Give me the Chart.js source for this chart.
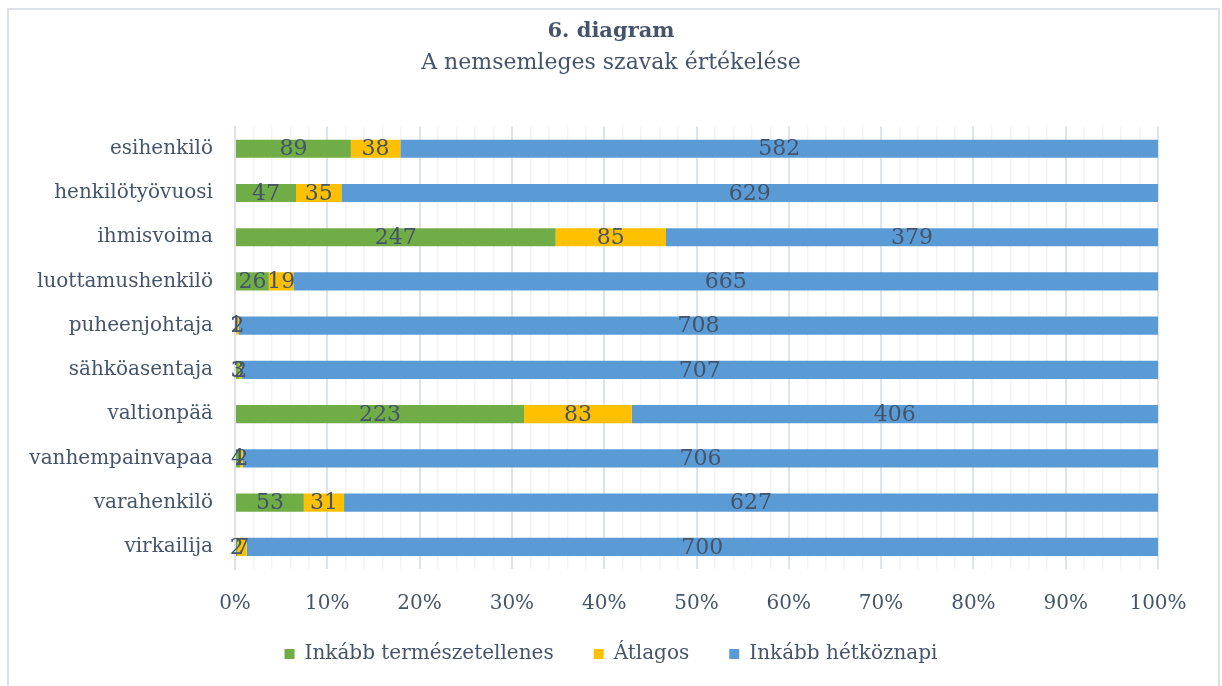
<!DOCTYPE html>
<html lang="hu">
<head>
<meta charset="UTF-8">
<title>6. diagram</title>
<script src="https://cdn.jsdelivr.net/npm/chart.js@4.4.1/dist/chart.umd.min.js"></script>
<style>
  html, body { margin: 0; padding: 0; background: #fff; overflow: hidden; }
  #wrap { position: absolute; left: 0; top: 0; width: 1222px; height: 686px; }
  #frame { position: absolute; left: 7px; top: 8px; width: 1209px; height: 700px;
           border: 2px solid #DCE1E8; pointer-events: none; }
</style>
</head>
<body>
<div id="wrap"><canvas id="chart" width="1222" height="686"></canvas></div>
<div id="frame"></div>
<script>
const categories = ['esihenkilö', 'henkilötyövuosi', 'ihmisvoima', 'luottamushenkilö', 'puheenjohtaja',
                    'sähköasentaja', 'valtionpää', 'vanhempainvapaa', 'varahenkilö', 'virkailija'];
const seriesNames = ['Inkább természetellenes', 'Átlagos', 'Inkább hétköznapi'];
const unnatural = [89, 47, 247, 26, 1, 3, 223, 4, 53, 2];
const average   = [38, 35, 85, 19, 2, 2, 83, 2, 31, 7];
const everyday  = [582, 629, 379, 665, 708, 707, 406, 706, 627, 700];
const colors = ['#70AD47', '#FFC000', '#5B9BD5'];
const textColor = '#44546A';
const font = 'DejaVu Serif';

const raw = [unnatural, average, everyday];
const totals = categories.map((c, i) => unnatural[i] + average[i] + everyday[i]);
const pct = raw.map(s => s.map((v, i) => v / totals[i] * 100));

// draw the count in the middle of each segment
const segmentLabels = {
  id: 'segmentLabels',
  afterDatasetsDraw(chart) {
    const ctx = chart.ctx;
    ctx.save();
    ctx.font = '22px "' + font + '"';
    ctx.fillStyle = textColor;
    ctx.textAlign = 'center';
    ctx.textBaseline = 'middle';
    chart.data.datasets.forEach((ds, i) => {
      chart.getDatasetMeta(i).data.forEach((bar, j) => {
        const p = bar.getCenterPoint();
        ctx.fillText(String(raw[i][j]), p.x, p.y + 1);
      });
    });
    ctx.restore();
  }
};

// legend with fixed height, nudged up; title, subtitle and legend centred on the whole canvas
const boxPlace = {
  id: 'boxPlace',
  beforeInit(chart) {
    const lg = chart.legend;
    const fit = lg.fit;
    lg.fit = function () { fit.call(this); this.height = 69; };
  },
  afterLayout(chart) {
    chart.legend.top -= 13;
    chart.legend.bottom -= 13;
    chart.boxes.forEach(b => {
      if (b.position === 'top' || b.position === 'bottom') {
        if (b.axis) return;
        b.left = 0;
        b.right = chart.width;
        b.width = chart.width;
      }
    });
  }
};

new Chart(document.getElementById('chart'), {
  type: 'bar',
  data: {
    labels: categories,
    datasets: seriesNames.map((name, i) => ({
      label: name,
      data: pct[i],
      backgroundColor: colors[i],
      borderWidth: 0,
      categoryPercentage: 0.82,
      barPercentage: 0.5
    }))
  },
  options: {
    indexAxis: 'y',
    responsive: false,
    animation: false,
    layout: { padding: { left: 15, right: 64, top: 0, bottom: 0 } },
    scales: {
      x: {
        stacked: true,
        min: 0,
        max: 100,
        grid: {
          drawTicks: false,
          lineWidth: c => (c.tick && c.tick.value % 10 === 0) ? 2 : 1.5,
          color: c => (c.tick && c.tick.value % 10 === 0) ? '#DFE3EA' : '#F3F3F3'
        },
        border: { display: false },
        ticks: {
          stepSize: 2,
          autoSkip: false,
          maxTicksLimit: 60,
          maxRotation: 0,
          padding: 23,
          color: textColor,
          font: { family: font, size: 20 },
          callback: v => v % 10 === 0 ? v + '%' : ''
        },
        afterFit: s => { s.height = 48; }
      },
      y: {
        stacked: true,
        grid: { display: false, drawTicks: false },
        border: { display: true, color: '#DCE1E8', width: 2 },
        ticks: {
          padding: 22,
          color: textColor,
          font: { family: font, size: 20 }
        },
        afterFit: s => { s.width = 220; }
      }
    },
    plugins: {
      title: {
        display: true,
        text: '6. diagram',
        color: textColor,
        font: { family: font, size: 21, weight: 'bold' },
        padding: { top: 19, bottom: 6 }
      },
      subtitle: {
        display: true,
        text: 'A nemsemleges szavak értékelése',
        color: textColor,
        font: { family: font, size: 22 },
        padding: { top: 0, bottom: 50 }
      },
      legend: {
        position: 'bottom',
        labels: {
          boxWidth: 10,
          boxHeight: 10,
          padding: 40,
          color: textColor,
          font: { family: font, size: 20 }
        }
      },
      tooltip: { enabled: false }
    }
  },
  plugins: [segmentLabels, boxPlace]
});
</script>
</body>
</html>
